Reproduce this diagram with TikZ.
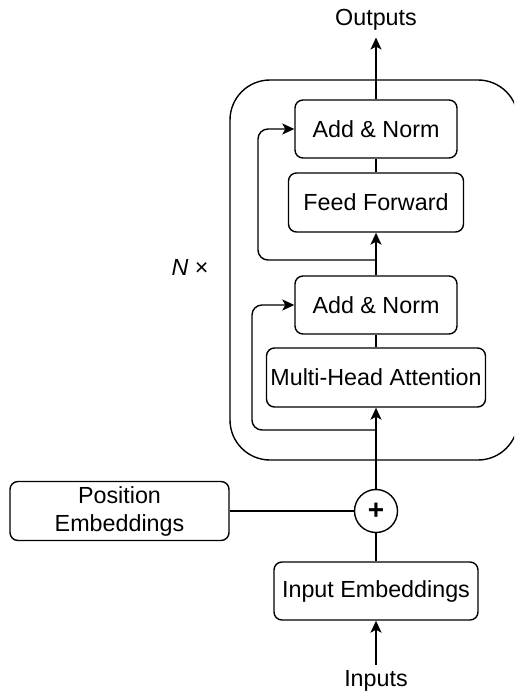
\documentclass[tikz,border=0pt]{standalone}
\usepackage{fontspec}
\setmainfont{Liberation Sans}
\usetikzlibrary{arrows.meta,calc}
\begin{document}
\begin{tikzpicture}[x=1pt,y=-1pt,
  line width=1.4pt,
  txt/.style={font=\fontsize{23.3}{28}\selectfont, inner sep=0pt},
  box/.style={txt, draw, rounded corners=8pt, align=center},
  arr/.style={-{Stealth[length=12pt,width=11pt,inset=3pt]}},
  loopline/.style={arr, rounded corners=10pt}]
\useasboundingbox (0,0) rectangle (514,695);
\clip (0,0) rectangle (514,695);
\fill[white] (0,0) rectangle (514,695);
% outer block
\node[draw, rounded corners=40pt, minimum width=288pt, minimum height=380pt, inner sep=0pt] (blk) at (374,270) {};
% nodes
\node[box, minimum width=162pt, minimum height=58pt] (an1) at (376,129) {Add \& Norm};
\node[box, minimum width=175pt, minimum height=59pt] (ff) at (376,202.5) {Feed Forward};
\node[box, minimum width=162pt, minimum height=58pt] (an2) at (376,305) {Add \& Norm};
\node[box, minimum width=219pt, minimum height=59pt] (mha) at (376,377.5) {Multi-Head Attention};
\node[box, minimum width=219pt, minimum height=59pt] (pe) at (119.5,511) {Position\\Embeddings};
\node[box, minimum width=204pt, minimum height=58pt] (ie) at (376,591) {Input Embeddings};
\node[draw, circle, inner sep=0pt, minimum size=43pt, font=\fontsize{28}{30}\selectfont\bfseries] (plus) at (376,511) {+};
\node[txt, outer sep=7pt] (outl) at (376,20) {Outputs};
\node[txt, outer sep=6pt] (inl) at (376,681) {Inputs};
\node[txt] (nlab) at (190,267) {\textit{N} ×};
% branch coordinates
\coordinate (b1) at (376,260);
\coordinate (b2) at (376,430);
\coordinate (l1) at (258,0);
\coordinate (l2) at (252,0);
% connectors
\draw[arr] (inl.north) -- (ie.south);
\draw (ie.north) -- (plus.south);
\draw (pe.east) -- (plus.west);
\draw[arr] (plus.north) -- (mha.south);
\draw (mha.north) -- (an2.south);
\draw[arr] (an2.north) -- (ff.south);
\draw (ff.north) -- (an1.south);
\draw[arr] (an1.north) -- (outl.south);
\draw[loopline] (b2) -- (b2 -| l2) |- (an2.west);
\draw[loopline] (b1) -- (b1 -| l1) |- (an1.west);
\end{tikzpicture}
\end{document}
